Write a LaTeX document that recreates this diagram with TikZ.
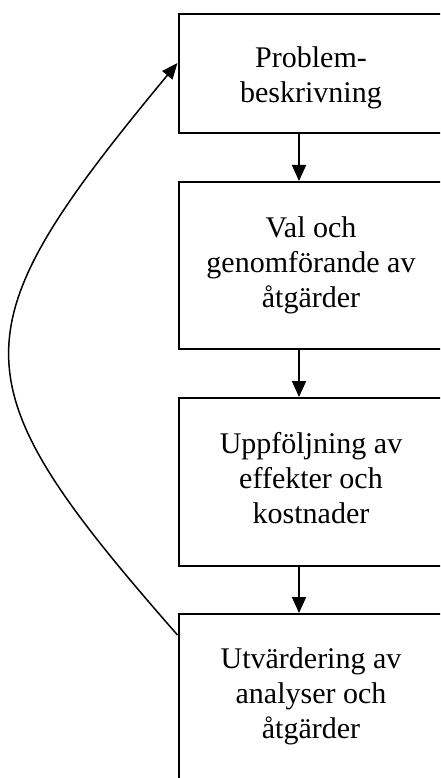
\documentclass[tikz,border=0pt]{standalone}
\usepackage{fontspec}
\setmainfont{Liberation Serif}
\usetikzlibrary{arrows.meta}
\begin{document}
\begin{tikzpicture}[x=1pt,y=-1pt,
  stagebox/.style={draw, line width=2pt, rectangle, minimum width=265.5pt, inner sep=0pt},
  stagetext/.style={align=center, anchor=base, font=\fontsize{30}{35}\selectfont, inner sep=0pt},
  flow/.style={line width=1.8pt, -{Triangle[length=16pt,width=14pt]}},
  loopback/.style={line width=1.5pt, -{Triangle[length=16pt,width=13pt]}}]
\useasboundingbox (0,0) rectangle (440,778);
\clip (0,0) rectangle (440,778);
\fill[white] (0,0) rectangle (440,778);

% process stages
\node[stagebox, minimum height=119pt] (b1) at (311.25,73.5) {};
\node[stagebox, minimum height=167pt] (b2) at (311.25,265.5) {};
\node[stagebox, minimum height=168pt] (b3) at (311.25,482) {};
\node[stagebox, minimum height=168pt] (b4) at (311.25,698) {};

\node[stagetext] (t1) at (311,103) {Problem-\\beskrivning};
\node[stagetext] (t2) at (311,307.5) {Val och\\genomförande av\\åtgärder};
\node[stagetext] (t3) at (311,523) {Uppföljning av\\effekter och\\kostnader};
\node[stagetext] (t4) at (311,738) {Utvärdering av\\analyser och\\åtgärder};

% downward flow between stages
\draw[flow] ([xshift=-12.25pt]b1.south) -- ([xshift=-12.25pt]b2.north);
\draw[flow] ([xshift=-12.25pt]b2.south) -- ([xshift=-12.25pt]b3.north);
\draw[flow] ([xshift=-12.25pt]b3.south) -- ([xshift=-12.25pt]b4.north);

% feedback loop back to the problem description
\draw[loopback] ([yshift=-22pt]b4.north west) .. controls (-46,380) and (-46,333) .. ([yshift=-50pt]b1.north west);
\end{tikzpicture}
\end{document}
